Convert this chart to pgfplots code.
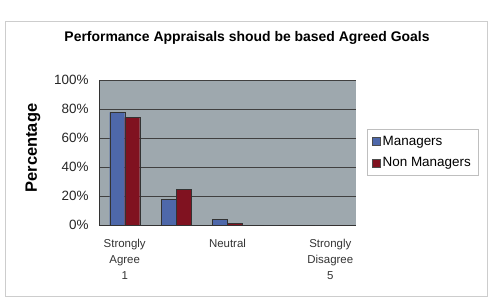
\documentclass[border=0pt]{standalone}
\usepackage{pgfplots}
\pgfplotsset{compat=1.18}
\usepackage{fontspec}
\setmainfont{Liberation Sans}
\definecolor{plotbg}{RGB}{158,168,174}
\definecolor{mgr}{RGB}{78,104,170}
\definecolor{nmgr}{RGB}{128,18,32}
\definecolor{frame}{RGB}{205,205,205}
\begin{document}
\begin{tikzpicture}[x=1bp,y=1bp]
\useasboundingbox (0,0) rectangle (497,301);
\draw[frame,line width=1bp] (5,5) rectangle (487,280);
\node[font=\fontsize{14}{16}\selectfont\bfseries] at (247,263) {Performance Appraisals shoud be based Agreed Goals};
\node[font=\fontsize{16.5}{18}\selectfont\bfseries,rotate=90] at (33,153) {Percentage};
\begin{axis}[
  at={(99bp,76bp)}, anchor=south west,
  width=257bp, height=145bp, scale only axis,
  xmin=0.5, xmax=5.5, ymin=0, ymax=100,
  axis background/.style={fill=plotbg},
  axis line style={black!80, line width=0.8bp},
  ybar=0pt, bar width=15bp,
  xtick={1,...,5},
  xticklabels={{Strongly\\Agree\\1},{},{Neutral},{},{Strongly\\Disagree\\5}},
  x tick label style={font=\fontsize{11.5}{16.5}\selectfont, align=center, text=black!80, yshift=-6bp},
  extra x ticks={0.5,1.5,2.5,3.5,4.5,5.5}, extra x tick labels={},
  extra x tick style={major tick length=3bp, tick style={black!70}},
  xtick style={draw=none},
  ytick={0,20,...,100},
  yticklabel={\pgfmathprintnumber{\tick}\%},
  y tick label style={font=\fontsize{13.5}{15}\selectfont, text=black!85, xshift=-7bp},
  /pgf/number format/assume math mode=true,
  ymajorgrids, grid style={black!75, line width=0.6bp},
  ytick style={draw=none},
  axis x line*=bottom, axis y line*=left,
  legend style={at={(1.043,0.665)}, anchor=north west, draw=black!25,
    fill=white, font=\fontsize{13.5}{15}\selectfont, row sep=7bp,
    inner xsep=5bp, inner ysep=5bp, legend cell align=left},
  legend image code/.code={\draw[#1, draw=black!70] (0bp,-4bp) rectangle (8bp,4bp);},
]
\addplot[fill=mgr, draw=black!80] coordinates {(1,77.7) (2,17.7) (3,3.9) (4,0) (5,0)};
\addplot[fill=nmgr, draw=black!80] coordinates {(1,74.3) (2,24.8) (3,1.0) (4,0) (5,0)};
\legend{Managers, Non Managers}
\end{axis}
\end{tikzpicture}
\end{document}
